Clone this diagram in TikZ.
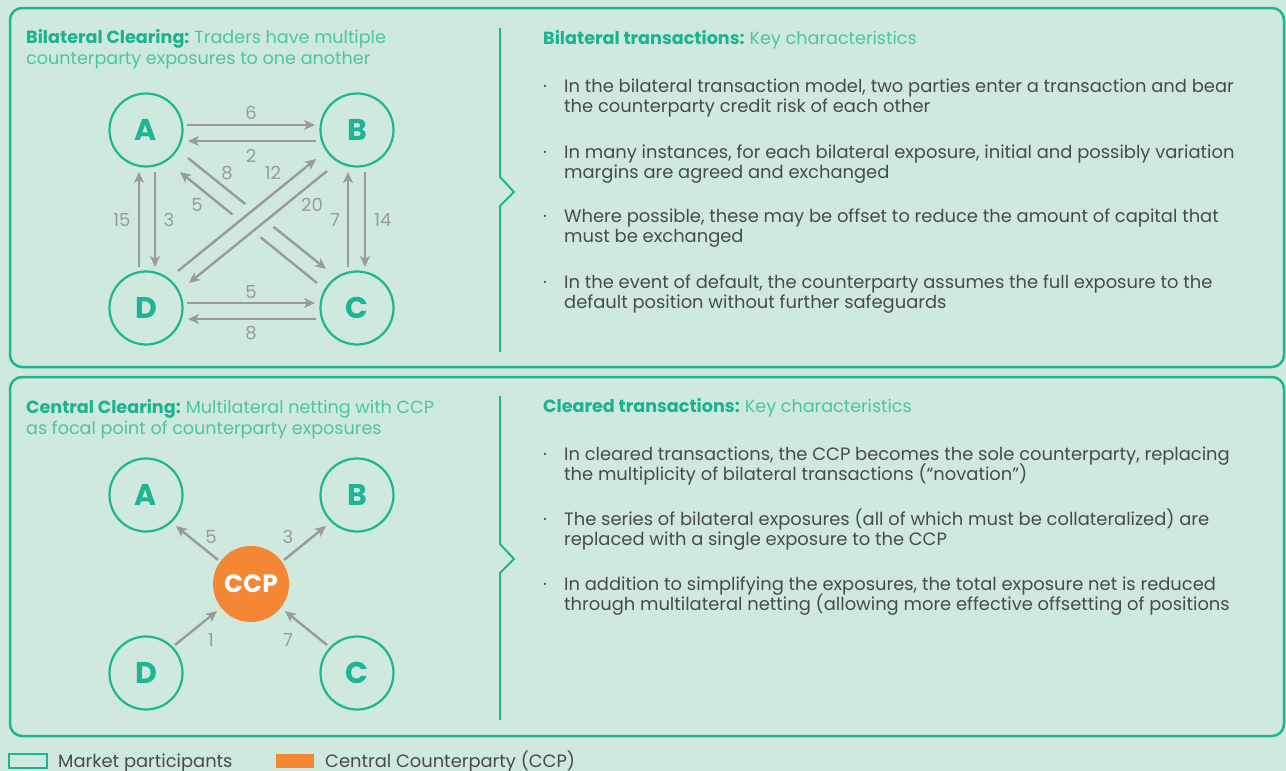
\documentclass[tikz,border=0pt]{standalone}
\usepackage{fontspec}
\setmainfont{Poppins}
\usetikzlibrary{arrows.meta,calc}
\definecolor{bg}{HTML}{CFE9DF}
\definecolor{teal}{HTML}{1DB593}
\definecolor{tealdark}{HTML}{1BB28E}
\definecolor{teallight}{HTML}{4CC5A3}
\definecolor{arrgray}{HTML}{9A9A9A}
\definecolor{bodygray}{HTML}{4A4A4A}
\definecolor{ccporange}{HTML}{F58634}
\begin{document}
\begin{tikzpicture}[x=1pt,y=-1pt,
  arr/.style={draw=arrgray, line width=2.4pt, -{Stealth[length=11pt,width=10pt,inset=3pt]}},
  halo/.style={draw=bg, line width=19pt},
  party/.style={circle, draw=teal, line width=2.2pt, minimum size=73pt, inner sep=0pt, text=teal, font=\fontsize{30}{30}\selectfont\bfseries},
  ccpnode/.style={circle, fill=ccporange, minimum size=76pt, inner sep=0pt, text=white, font=\fontsize{25}{25}\selectfont\bfseries},
  lbl/.style={text=arrgray, inner sep=0pt, font=\fontsize{18}{18}\selectfont},
  panel/.style={draw=teal, line width=2.5pt, rounded corners=12pt},
  divider/.style={draw=teal, line width=2pt},
  title/.style={anchor=base west, inner sep=0pt, font=\fontsize{17.6}{17.6}\selectfont},
  body/.style={anchor=base west, inner sep=0pt, text=bodygray, font=\fontsize{17.9}{17.9}\selectfont},
  legend/.style={anchor=base west, inner sep=0pt, text=bodygray, font=\fontsize{17.9}{17.9}\selectfont}
]
\fill[bg] (0,0) rectangle (1286,771);
\useasboundingbox (0,0) rectangle (1286,771);

% panels
\draw[panel] (10,8) rectangle (1284,367);
\draw[panel] (10,377) rectangle (1284,736);

% dividers
\draw[divider] (500,28) -- (500,177) -- (514,192) -- (500,206) -- (500,352);
\draw[divider] (500,396) -- (500,544) -- (514,559) -- (500,573) -- (500,720);

% ---------- top left titles
\node[title] (tt1) at (26,43) {\textcolor{tealdark}{\bfseries Bilateral Clearing:}\hspace{5pt}\textcolor{teallight}{Traders have multiple}};
\node[title] (tt2) at (26,64) {\textcolor{teallight}{counterparty exposures to one another}};

% top diagram nodes
\node[party] (A) at (146,130) {A};
\node[party] (B) at (357,130) {B};
\node[party] (D) at (146,308) {D};
\node[party] (C) at (357,308) {C};

% horizontal
\draw[arr] ($(A)+(41,-5)$) -- ($(B)+(-42,-5)$);
\draw[arr] ($(B)+(-41,11)$) -- ($(A)+(42,11)$);
\draw[arr] ($(D)+(41,-5)$) -- ($(C)+(-42,-5)$);
\draw[arr] ($(C)+(-41,11)$) -- ($(D)+(42,11)$);
% vertical
\draw[arr] ($(A)+(9,42)$) -- ($(D)+(9,-41)$);
\draw[arr] ($(D)+(-7,-41)$) -- ($(A)+(-7,42)$);
\draw[arr] ($(B)+(8,42)$) -- ($(C)+(8,-41)$);
\draw[arr] ($(C)+(-9,-41)$) -- ($(B)+(-9,42)$);
% diagonals A-C
\draw[arr] ($(A)+(42,28)$) -- ($(C)+(-31,-39)$);
\draw[arr] ($(C)+(-40,-25)$) -- ($(A)+(34,42)$);
% diagonals B-D with halo
\draw[halo] ($(D)+(32,-37)$) -- ($(B)+(-41,29)$);
\draw[halo] ($(B)+(-30,41)$) -- ($(D)+(43,-25)$);
\draw[arr] ($(D)+(32,-37)$) -- ($(B)+(-41,29)$);
\draw[arr] ($(B)+(-30,41)$) -- ($(D)+(43,-25)$);

% labels
\node[lbl] (l6) at (251,113) {6};
\node[lbl] (l2) at (251,156) {2};
\node[lbl] (l15) at (122,220) {15};
\node[lbl] (l3) at (169,220) {3};
\node[lbl] (l7) at (335,220) {7};
\node[lbl] (l14) at (383,220) {14};
\node[lbl] (l5b) at (251,292) {5};
\node[lbl] (l8b) at (251,333) {8};
\node[lbl] (l8) at (227,173) {8};
\node[lbl] (l12) at (273,173) {12};
\node[lbl] (l5) at (197,205) {5};
\node[lbl] (l20) at (312,205) {20};

% ---------- top right text
\node[title] (rh1) at (543,44) {\textcolor{tealdark}{\bfseries Bilateral transactions:}\hspace{5pt}\textcolor{teallight}{Key characteristics}};
\node[body] (d1) at (543,92) {·};
\node[body] (b1a) at (564,92) {In the bilateral transaction model, two parties enter a transaction and bear};
\node[body] (b1b) at (564,112) {the counterparty credit risk of each other};
\node[body] (d2) at (543,158) {·};
\node[body] (b2a) at (564,158) {In many instances, for each bilateral exposure, initial and possibly variation};
\node[body] (b2b) at (564,178) {margins are agreed and exchanged};
\node[body] (d3) at (543,222) {·};
\node[body] (b3a) at (564,222) {Where possible, these may be offset to reduce the amount of capital that};
\node[body] (b3b) at (564,242) {must be exchanged};
\node[body] (d4) at (543,288) {·};
\node[body] (b4a) at (564,288) {In the event of default, the counterparty assumes the full exposure to the};
\node[body] (b4b) at (564,308) {default position without further safeguards};

% ---------- bottom left
\node[title] (bt1) at (26,413) {\textcolor{tealdark}{\bfseries Central Clearing:}\hspace{5pt}\textcolor{teallight}{Multilateral netting with CCP}};
\node[title] (bt2) at (26,434) {\textcolor{teallight}{as focal point of counterparty exposures}};

\node[party] (A2) at (146,495) {A};
\node[party] (B2) at (357,495) {B};
\node[party] (D2) at (146,673) {D};
\node[party] (C2) at (357,673) {C};
\node[ccpnode] (ccp) at (251,584) {CCP};

\draw[arr] ($(ccp)+(-33,-24)$) -- ($(A2)+(30,31)$);
\draw[arr] ($(ccp)+(33,-24)$) -- ($(B2)+(-31,31)$);
\draw[arr] ($(D2)+(29,-28)$) -- ($(ccp)+(-34,27)$);
\draw[arr] ($(C2)+(-30,-28)$) -- ($(ccp)+(34,27)$);

\node[lbl] (m5) at (211,537) {5};
\node[lbl] (m3) at (288,537) {3};
\node[lbl] (m1) at (211,640) {1};
\node[lbl] (m7) at (288,640) {7};

% ---------- bottom right text
\node[title] (rh2) at (543,412) {\textcolor{tealdark}{\bfseries Cleared transactions:}\hspace{5pt}\textcolor{teallight}{Key characteristics}};
\node[body] (e1) at (543,460) {·};
\node[body] (c1a) at (564,460) {In cleared transactions, the CCP becomes the sole counterparty, replacing};
\node[body] (c1b) at (564,480) {the multiplicity of bilateral transactions (“novation”)};
\node[body] (e2) at (543,525) {·};
\node[body] (c2a) at (564,525) {The series of bilateral exposures (all of which must be collateralized) are};
\node[body] (c2b) at (564,545) {replaced with a single exposure to the CCP};
\node[body] (e3) at (543,590) {·};
\node[body] (c3a) at (564,590) {In addition to simplifying the exposures, the total exposure net is reduced};
\node[body] (c3b) at (564,610) {through multilateral netting (allowing more effective offsetting of positions};

% ---------- legend
\draw[draw=teal, line width=2pt] (9,754) rectangle (47,768);
\node[legend] (lg1) at (58,767) {Market participants};
\fill[ccporange] (276,754) rectangle (314,768);
\node[legend] (lg2) at (325,767) {Central Counterparty (CCP)};
\end{tikzpicture}
\end{document}
